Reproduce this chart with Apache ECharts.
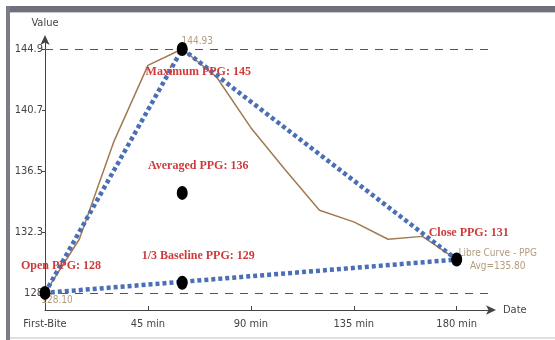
<!DOCTYPE html>
<html>
<head>
<meta charset="utf-8">
<script src="https://cdn.jsdelivr.net/npm/echarts@6/dist/echarts.min.js"></script>
<style>
html,body{margin:0;padding:0;background:#fff;}
#c{width:555px;height:340px;}
</style>
</head>
<body>
<div id="c"></div>
<script>
// ---- data ----
const minutes = [0, 15, 30, 45, 60, 75, 90, 105, 120, 135, 150, 165, 180];
const librePPG = [128.1, 131.8, 138.5, 143.8, 144.93, 143.0, 139.5, 136.6, 133.8, 133.0, 131.8, 132.0, 130.4];
const keyX = [0, 60, 60, 60, 180];
const keyY = [128.1, 144.93, 135.0, 128.8, 130.4];
const keyLabels = ['Open PPG: 128', 'Maximum PPG: 145', 'Averaged PPG: 136', '1/3 Baseline PPG: 129', 'Close PPG: 131'];
const triX = [0, 60, 180, 0];
const triY = [128.1, 144.93, 130.4, 128.1];
const xTickValues = [0, 45, 90, 135, 180];
const xTickLabels = ['First-Bite', '45 min', '90 min', '135 min', '180 min'];
const yTickValues = [128.1, 132.3, 136.5, 140.7, 144.93];
const yTickLabels = ['128', '132.3', '136.5', '140.7', '144.9'];
const seriesName = 'Libre Curve - PPG';
const avgText = 'Avg=135.80';

// ---- chart ----
const chart = echarts.init(document.getElementById('c'), null, {renderer: 'canvas'});
const sansNarrow = '"Liberation Sans Narrow","DejaVu Sans Condensed","Roboto",sans-serif';
const serif = '"Liberation Serif","DejaVu Serif",serif';
const red = '#cf3b3b';
const tan = '#b39b7d';

const libreData = minutes.map((m, i) => [m, librePPG[i]]);
const triData = triX.map((x, i) => [x, triY[i]]);
const keyData = keyX.map((x, i) => {
  const below = i === 1;
  return {
    value: [x, keyY[i]],
    label: {
      show: true,
      formatter: keyLabels[i],
      position: below ? 'bottom' : 'top',
      distance: below ? 10 : 14,
      offset: [i === 4 ? 12 : 16, 0]
    }
  };
});

function nearestLabel(v, vals, labels) {
  let best = 0, bd = Infinity;
  vals.forEach((t, i) => { const d = Math.abs(t - v); if (d < bd) { bd = d; best = i; } });
  return labels[best];
}

chart.setOption({
  animation: false,
  backgroundColor: '#fff',
  graphic: [
    {type: 'rect', shape: {x: 6, y: 6, width: 549, height: 6}, style: {fill: '#6e717b'}, silent: true},
    {type: 'rect', shape: {x: 6, y: 6, width: 4, height: 334}, style: {fill: '#7a7d86'}, silent: true},
    {type: 'rect', shape: {x: 10, y: 12, width: 545, height: 1}, style: {fill: '#c8c9cd'}, silent: true},
    {type: 'rect', shape: {x: 10, y: 337, width: 545, height: 2}, style: {fill: '#dedfe2'}, silent: true}
  ],
  grid: {left: 45, right: 64, top: 40, bottom: 30},
  xAxis: {
    type: 'value',
    min: 0,
    max: 195,
    name: 'Date',
    nameLocation: 'end',
    nameGap: 12,
    nameTextStyle: {color: '#444', fontSize: 11, fontFamily: sansNarrow},
    axisLine: {show: true, lineStyle: {color: '#444', width: 1}, symbol: ['none', 'arrow'], symbolSize: [7, 10], symbolOffset: [0, 5]},
    axisTick: {show: true, inside: true, length: 4, customValues: xTickValues, lineStyle: {color: '#444'}},
    axisLabel: {
      customValues: xTickValues,
      color: '#444', fontSize: 11, fontFamily: sansNarrow, margin: 9,
      formatter: v => nearestLabel(v, xTickValues, xTickLabels)
    },
    splitLine: {show: false}
  },
  yAxis: {
    type: 'value',
    min: 126.92,
    max: 145.55,
    name: 'Value',
    nameLocation: 'end',
    nameGap: 11,
    nameTextStyle: {color: '#444', fontSize: 11, fontFamily: sansNarrow, align: 'center'},
    axisLine: {show: true, lineStyle: {color: '#444', width: 1}, symbol: ['none', 'arrow'], symbolSize: [7, 10], symbolOffset: [0, 5]},
    axisTick: {show: true, length: 3, customValues: yTickValues, lineStyle: {color: '#444'}},
    axisLabel: {
      customValues: yTickValues,
      color: '#444', fontSize: 11, fontFamily: sansNarrow, margin: 2,
      formatter: v => nearestLabel(v, yTickValues, yTickLabels)
    },
    splitLine: {show: false}
  },
  series: [
    {
      name: seriesName,
      type: 'line',
      data: libreData,
      symbol: 'none',
      z: 2,
      lineStyle: {color: '#a07a52', width: 1.5},
      itemStyle: {color: '#a07a52'},
      endLabel: {
        show: true,
        distance: 8,
        formatter: '{a|' + seriesName + '}\n{a|' + avgText + '}',
        rich: {a: {width: 66, align: 'center', color: tan, fontSize: 10, fontFamily: sansNarrow, lineHeight: 13}}
      },
      markLine: {
        silent: true,
        symbol: 'none',
        z: 1,
        label: {show: false},
        lineStyle: {color: '#555', type: [8, 7], width: 1.2},
        data: [{type: 'max'}, {type: 'min'}]
      },
      markPoint: {
        z: 2,
        symbol: 'circle',
        symbolSize: 1,
        itemStyle: {color: 'rgba(0,0,0,0)'},
        label: {
          show: true,
          position: 'inside',
          color: tan,
          fontSize: 10,
          fontFamily: sansNarrow,
          formatter: p => p.value.toFixed(2)
        },
        data: [
          {type: 'max', label: {offset: [15, -8]}},
          {type: 'min', label: {offset: [12, 8]}}
        ]
      }
    },
    {
      name: 'Triangle',
      type: 'line',
      data: triData,
      symbol: 'none',
      z: 4,
      lineStyle: {color: '#4a6fb5', width: 4.5, type: [4, 3]}
    },
    {
      name: 'Key points',
      type: 'scatter',
      data: keyData,
      symbol: 'circle',
      symbolSize: [11, 14],
      z: 10,
      itemStyle: {color: '#000', opacity: 1},
      label: {color: red, fontSize: 12, fontWeight: 'bold', fontFamily: serif}
    }
  ]
});
</script>
</body>
</html>
